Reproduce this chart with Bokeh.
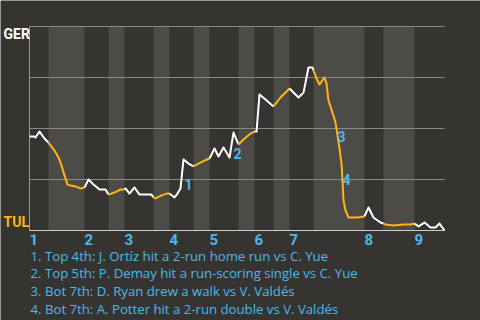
from bokeh.plotting import figure
from bokeh.models import Range1d
from bokeh.core.properties import value
from bokeh.embed import file_html
from bokeh.resources import INLINE

# ---- data -------------------------------------------------------------
# game progress (pitch-based units) and GER win probability
progress = [0, 5, 6, 10, 15, 19,
            25, 29, 32, 35, 38, 41, 46, 51, 55,
            59, 64, 70, 76, 79,
            85, 91, 95,
            96, 100, 105, 110, 122, 124,
            126, 132, 137, 140,
            145, 148, 151, 154, 159, 164,
            169, 175, 180,
            185, 189, 194, 200, 204, 209,
            214, 221, 225,
            227, 230, 236, 244,
            251, 260,
            269, 274, 279, 283, 284,
            288, 290, 295, 297, 299, 303, 306, 308, 310, 312, 313, 314, 316, 319, 328, 335,
            339, 344, 351, 354,
            356, 364, 374, 381, 385,
            389, 395, 401, 406, 410, 415]
ger_wp = [.461, .461, .456, .485, .451, .431,
          .392, .358, .319, .270, .225, .221, .216, .206, .211,
          .250, .225, .201, .201, .176,
          .186, .201, .201,
          .206, .181, .211, .176, .176, .162,
          .157, .172, .181, .181,
          .162, .181, .206, .348, .328, .314,
          .328, .343, .353,
          .402, .363, .407, .358, .480, .422,
          .446, .475, .485,
          .485, .667, .642, .608,
          .652, .696,
          .652, .676, .799, .799, .784,
          .735, .716, .750, .721, .637, .578, .529, .466, .402, .328, .245, .147, .098, .064, .064, .069,
          .113, .064, .039, .034,
          .029, .025, .029, .029, .034,
          .020, .039, .015, .015, .034, 0.0]

# start of each half inning (top 1st, bot 1st, top 2nd, ...) and game end
half_starts = [0, 19, 55, 79, 95, 124, 140, 164, 180, 209, 225, 244, 260, 284, 335, 354, 385, 415]
innings = ["1", "2", "3", "4", "5", "6", "7", "8", "9"]
grid_levels = [0.25, 0.5, 0.75, 1.0]

event_labels = ["1", "2", "3", "4"]
event_x = [151, 200, 304, 309]
event_wp = [.226, .378, .461, .250]

captions = [
    "1. Top 4th: J. Ortíz hit a 2-run home run vs C. Yue",
    "2. Top 5th: P. Demay hit a run-scoring single vs C. Yue",
    "3. Bot 7th: D. Ryan drew a walk vs V. Valdés",
    "4. Bot 7th: A. Potter hit a 2-run double vs V. Valdés",
]
teams = ["GER", "TUL"]

# ---- styles -----------------------------------------------------------
BG = "#363431"
BAND = "#4d4b48"
GRID = "#8a8886"
WHITE = "#ffffff"
ORANGE = "#fdb515"
BLUE = "#4db8ea"
BOLD_FONT = value("Roboto")
FONT = value("Open Sans")

x0, x1 = half_starts[0], half_starts[-1]
# frame covers the whole canvas; chart area is progress 0..415, wp 0..1
p = figure(width=480, height=320, output_backend="svg", toolbar_location=None,
           x_range=Range1d(x0 - 29, x1 + 36), y_range=Range1d(-90 / 204, 1 + 26 / 204),
           min_border=0)
p.background_fill_color = BG
p.border_fill_color = BG
p.outline_line_color = None
p.axis.visible = False
p.grid.visible = False

# half-inning bands (bottom halves shaded)
bl, br = [], []
for i in range(len(half_starts) - 1):
    if i % 2 == 1:
        bl.append(half_starts[i])
        br.append(half_starts[i + 1])
p.quad(left=bl, right=br, bottom=0, top=1, fill_color=BAND, line_color=None)

# horizontal grid lines
p.segment(x0=[x0] * len(grid_levels), x1=[x1] * len(grid_levels),
          y0=grid_levels, y1=grid_levels, line_color=GRID, line_width=1)
# axis lines
p.segment(x0=[x0], x1=[x0], y0=[0], y1=[1], line_color="#9a9896", line_width=1)
p.segment(x0=[x0], x1=[x1], y0=[0], y1=[0], line_color="#cfcfcf", line_width=1)

# win-probability line, coloured by batting half
def half_of(x):
    h = 0
    for i in range(len(half_starts) - 1):
        if x >= half_starts[i]:
            h = i
    return h

xs, ys, cols = [], [], []
for i in range(len(progress) - 1):
    mid = (progress[i] + progress[i + 1]) / 2
    c = WHITE if half_of(mid) % 2 == 0 else ORANGE
    if cols and cols[-1] == c:
        xs[-1].append(progress[i + 1])
        ys[-1].append(ger_wp[i + 1])
    else:
        xs.append([progress[i], progress[i + 1]])
        ys.append([ger_wp[i], ger_wp[i + 1]])
        cols.append(c)
p.multi_line(xs=xs, ys=ys, line_color=cols, line_width=2, line_join="round")

# event markers
p.text(x=event_x, y=event_wp, text=event_labels, x_offset=4, text_align="left",
       text_baseline="alphabetic", text_color=BLUE, text_font=BOLD_FONT,
       text_font_style="bold", text_font_size="14px")

# team labels
p.text(x=[x0 - 26], y=[0.963], text=[teams[0]], text_align="left", text_baseline="alphabetic",
       text_color=WHITE, text_font=BOLD_FONT, text_font_style="bold", text_font_size="14px")
p.text(x=[x0 - 26], y=[0.040], text=[teams[1]], text_align="left", text_baseline="alphabetic",
       text_color=ORANGE, text_font=BOLD_FONT, text_font_style="bold", text_font_size="14px")

# inning numbers at the start of each top half
p.text(x=half_starts[0:-1:2], y=[-0.042] * len(innings), text=innings, text_align="left",
       text_baseline="alphabetic", text_color=BLUE, text_font=BOLD_FONT,
       text_font_style="bold", text_font_size="15px")

# captions
p.text(x=[x0 + 1] * len(captions), y=[-0.123 - 0.0875 * k for k in range(len(captions))],
       text=captions, text_align="left", text_baseline="alphabetic", text_color=BLUE,
       text_font=FONT, text_font_size="13.2px")

open("out.html", "w").write(file_html(p, INLINE))
